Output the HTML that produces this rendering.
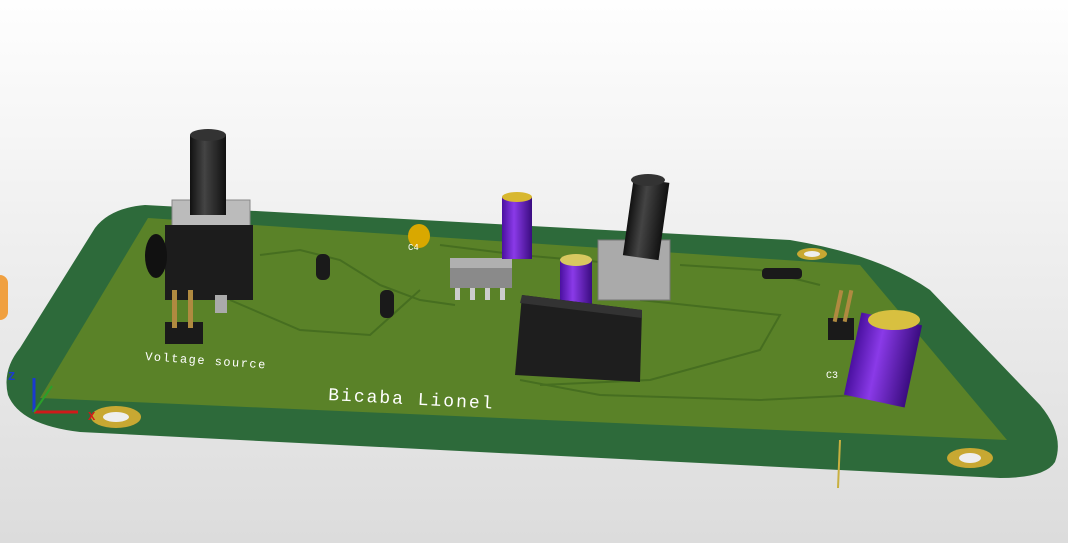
<!DOCTYPE html>
<html><head><meta charset="utf-8"><style>
html,body{margin:0;padding:0;width:1068px;height:543px;overflow:hidden}
svg{display:block}
text{font-family:"Liberation Mono",monospace}
</style></head><body>
<svg width="1068" height="543" viewBox="0 0 1068 543">
<defs>
<linearGradient id="bg" x1="0" y1="0" x2="0" y2="1"><stop offset="0" stop-color="#fefefe"/><stop offset="1" stop-color="#dcdcdc"/></linearGradient>
<linearGradient id="cap" x1="0" y1="0" x2="1" y2="0"><stop offset="0" stop-color="#4a10a0"/><stop offset="0.4" stop-color="#8a3ae8"/><stop offset="1" stop-color="#3a0c80"/></linearGradient>
<linearGradient id="knob" x1="0" y1="0" x2="1" y2="0"><stop offset="0" stop-color="#111"/><stop offset="0.4" stop-color="#444"/><stop offset="1" stop-color="#111"/></linearGradient>
</defs>
<rect width="1068" height="543" fill="url(#bg)"/>
<path fill="#2d6a3a" d="M95,228 Q110,208 145,205 L790,240 Q880,255 930,290 L1040,405 Q1065,435 1055,462 Q1045,478 1000,478 L80,432 Q20,425 8,395 Q2,370 20,348 Z"/>
<path fill="#5a8228" d="M148,218 L860,265 L1007,440 L40,398 Z"/>
<g stroke="#466e20" stroke-width="2" fill="none">
<path d="M260,255 L300,250 L340,260 L380,285 L420,300 L455,305"/>
<path d="M230,300 L300,330 L370,335 L420,290"/>
<path d="M440,245 L520,255 L600,262"/>
<path d="M640,300 L780,315 L760,350 L650,380 L540,385"/>
<path d="M520,380 L600,395 L760,400 L860,395"/>
<path d="M680,265 L760,270 L820,285"/>
</g>
<g>
<ellipse cx="116" cy="417" rx="25" ry="11" fill="#c8a832"/><ellipse cx="116" cy="417" rx="13" ry="5" fill="#eee"/>
<ellipse cx="970" cy="458" rx="23" ry="10" fill="#c8a832"/><ellipse cx="970" cy="458" rx="11" ry="5" fill="#eee"/>
<ellipse cx="812" cy="254" rx="15" ry="6" fill="#c8a832"/><ellipse cx="812" cy="254" rx="8" ry="3" fill="#eee"/>
</g>
<g>
<rect x="172" y="200" width="78" height="40" fill="#bbb" stroke="#888"/>
<rect x="190" y="135" width="36" height="80" fill="url(#knob)"/>
<ellipse cx="208" cy="135" rx="18" ry="6" fill="#333"/>
</g>
<g>
<rect x="165" y="225" width="88" height="75" fill="#1c1c1c"/>
<ellipse cx="156" cy="256" rx="11" ry="22" fill="#111"/>
<rect x="215" y="295" width="12" height="18" fill="#aaa"/>
</g>
<g>
<rect x="165" y="322" width="38" height="22" fill="#1a1a1a"/>
<rect x="172" y="290" width="5" height="38" fill="#b08a40"/><rect x="188" y="290" width="5" height="38" fill="#b08a40"/>
</g>
<rect x="316" y="254" width="14" height="26" rx="6" fill="#1a1a1a"/>
<rect x="380" y="290" width="14" height="28" rx="6" fill="#1a1a1a"/>
<ellipse cx="419" cy="236" rx="11" ry="12" fill="#d9a800"/>
<g>
<rect x="450" y="258" width="62" height="30" fill="#8a8a8a"/>
<rect x="450" y="258" width="62" height="10" fill="#b0b0b0"/>
<g fill="#ccc"><rect x="455" y="288" width="5" height="12"/><rect x="470" y="288" width="5" height="12"/><rect x="485" y="288" width="5" height="12"/><rect x="500" y="288" width="5" height="12"/></g>
</g>
<g>
<rect x="502" y="197" width="30" height="62" fill="url(#cap)"/>
<ellipse cx="517" cy="197" rx="15" ry="5" fill="#d8b830"/>
</g>
<g>
<rect x="560" y="260" width="32" height="50" fill="url(#cap)"/>
<ellipse cx="576" cy="260" rx="16" ry="6" fill="#d8c860"/>
</g>
<g>
<rect x="598" y="240" width="72" height="60" fill="#aaa" stroke="#777"/>
<rect x="628" y="180" width="36" height="78" fill="url(#knob)" transform="rotate(8 646 220)"/>
<ellipse cx="648" cy="180" rx="17" ry="6" fill="#333"/>
</g>
<g>
<polygon points="522,295 642,310 640,382 515,375" fill="#1e1e1e"/>
<polygon points="522,295 642,310 642,318 520,303" fill="#333"/>
</g>
<rect x="762" y="268" width="40" height="11" rx="4" fill="#1a1a1a"/>
<g>
<rect x="828" y="318" width="26" height="22" fill="#1a1a1a"/>
<rect x="836" y="290" width="4" height="32" fill="#b08a40" transform="rotate(12 838 306)"/>
<rect x="846" y="290" width="4" height="32" fill="#b08a40" transform="rotate(12 848 306)"/>
</g>
<g>
<rect x="852" y="318" width="62" height="84" fill="url(#cap)" transform="rotate(12 883 360)"/>
<ellipse cx="894" cy="320" rx="26" ry="10" fill="#d8c040"/>
</g>
<rect x="-10" y="275" width="18" height="45" rx="8" fill="#f0a040"/>
<line x1="840" y1="440" x2="838" y2="488" stroke="#c8b040" stroke-width="2"/>
<text x="145" y="360" fill="#fff" font-size="12" letter-spacing="1.5" transform="rotate(4 145 360)">Voltage source</text>
<text x="328" y="400" fill="#fff" font-size="18" letter-spacing="2" transform="rotate(3 328 400)">Bicaba Lionel</text>
<text x="826" y="378" fill="#fff" font-size="10">C3</text>
<text x="408" y="250" fill="#fff" font-size="9">C4</text>
<g>
<line x1="34" y1="412" x2="34" y2="378" stroke="#1a3ad0" stroke-width="3"/>
<line x1="34" y1="412" x2="78" y2="412" stroke="#d01a1a" stroke-width="3"/>
<line x1="34" y1="412" x2="52" y2="386" stroke="#2aa02a" stroke-width="2"/>
<text x="8" y="380" fill="#1a3ad0" font-size="12" font-weight="bold">Z</text>
<text x="88" y="420" fill="#d01a1a" font-size="12" font-weight="bold">X</text>
</g>
</svg>
</body></html>
